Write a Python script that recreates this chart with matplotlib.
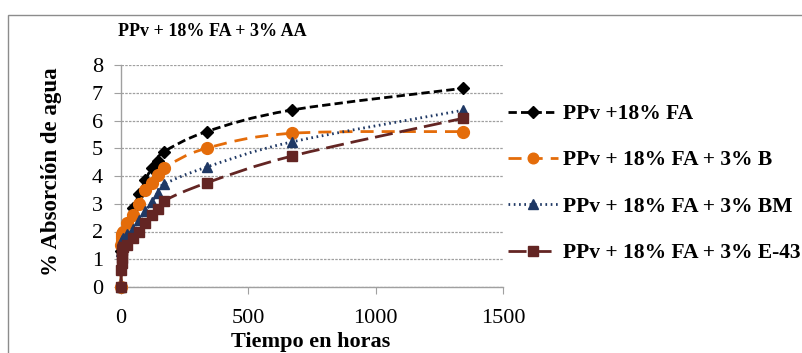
import matplotlib
matplotlib.use("Agg")
import matplotlib.pyplot as plt
from matplotlib.path import Path
from matplotlib.patches import PathPatch, Rectangle
from matplotlib.lines import Line2D
import numpy as np

plt.rcParams['font.family'] = ['Liberation Serif', 'DejaVu Serif']

title = "PPv + 18% FA + 3% AA"
xlabel = "Tiempo en horas"
ylabel = "% Absorción de agua"

hours = [0, 1, 2, 3, 4, 5, 6, 24, 48, 72, 96, 120, 144, 168, 336, 672, 1344]

labels = ["PPv +18% FA",
          "PPv + 18% FA + 3% B",
          "PPv + 18% FA + 3% BM",
          "PPv + 18% FA + 3% E-43"]

fa      = [0, 1.30, 1.50, 1.60, 1.70, 1.80, 1.90, 2.30, 2.85, 3.35, 3.85, 4.28, 4.55, 4.87, 5.60, 6.38, 7.16]
fa_b    = [0, 1.50, 1.65, 1.75, 1.85, 1.90, 2.00, 2.30, 2.60, 3.00, 3.50, 3.75, 4.05, 4.30, 5.00, 5.54, 5.60]
fa_bm   = [0, 1.30, 1.45, 1.55, 1.60, 1.70, 1.75, 1.90, 2.10, 2.40, 2.75, 3.05, 3.40, 3.70, 4.32, 5.23, 6.37]
fa_e43  = [0, 0.60, 0.85, 1.05, 1.20, 1.35, 1.45, 1.50, 1.75, 2.00, 2.30, 2.60, 2.80, 3.10, 3.75, 4.72, 6.08]

series = [fa, fa_b, fa_bm, fa_e43]
colors = ["#000000", "#E46C0A", "#1F3864", "#632523"]
markers = ["D", "o", "^", "s"]
msizes = [6.5, 8.5, 7.5, 7.5]
dashes = [(3, 1.5), (4.7, 2.9), (0.6, 1.3), (6.5, 2.5)]

W, H = 802, 353
fig = plt.figure(figsize=(W / 100, H / 100), dpi=100)

# outer chart frame
fig.patches.append(Rectangle((8 / W, -0.1), 1.2, (H - 15) / H + 0.1,
                             transform=fig.transFigure, fill=False,
                             edgecolor="#8c8c8c", linewidth=1.0))

ax = fig.add_axes([121 / W, (H - 287) / H, (503 - 121) / W, (287 - 65) / H])
ax.set_xlim(0, 1500)
ax.set_ylim(0, 8)
ax.set_xticks([0, 500, 1000, 1500])
ax.set_yticks(range(0, 9))
for s in ["top", "right"]:
    ax.spines[s].set_visible(False)
for s in ["left", "bottom"]:
    ax.spines[s].set_color("#a0a0a0")
    ax.spines[s].set_linewidth(1.0)
ax.tick_params(axis="both", direction="out", length=5, color="#a0a0a0",
               labelsize=16)
ax.tick_params(axis="x", pad=11)
ax.tick_params(axis="y", pad=8)
ax.grid(axis="y", color="#a0a0a0", linestyle=(0, (2, 1)), linewidth=0.9)
ax.set_axisbelow(True)


def smooth_path(xs, ys):
    pts = np.column_stack([xs, ys]).astype(float)
    n = len(pts)
    verts = [pts[0]]
    codes = [Path.MOVETO]
    for i in range(n - 1):
        p0 = pts[i - 1] if i > 0 else pts[i]
        p1 = pts[i]
        p2 = pts[i + 1]
        p3 = pts[i + 2] if i + 2 < n else pts[i + 1]
        c1 = p1 + (p2 - p0) / 6.0
        c2 = p2 - (p3 - p1) / 6.0
        verts += [c1, c2, p2]
        codes += [Path.CURVE4] * 3
    return Path(verts, codes)


handles = []
for k, (vals, col, mk, ms, ds) in enumerate(zip(series, colors, markers, msizes, dashes)):
    z = 3 + k
    patch = PathPatch(smooth_path(hours, vals), fill=False, edgecolor=col,
                      linewidth=2.0, zorder=z, clip_on=False)
    patch.set_linestyle((0, ds))
    ax.add_patch(patch)
    ax.plot(hours, vals, linestyle="none", marker=mk, markersize=ms,
            color=col, markeredgecolor=col, zorder=z, clip_on=False)
    handles.append(Line2D([], [], color=col, linewidth=2.0,
                          linestyle=(0, ds), marker=mk, markersize=ms * 0.9,
                          markeredgecolor=col))

fig.text(311 / W, 1 - 342 / H, xlabel, fontsize=16, fontweight="bold",
         ha="center", va="center")
fig.text(52 / W, 1 - 172 / H, ylabel, fontsize=16.5, fontweight="bold",
         ha="center", va="center", rotation=90)

fig.text(212 / W, 1 - 32 / H, title, fontsize=13, fontweight="bold",
         ha="center", va="center")

leg = fig.legend(handles, labels, loc="upper left",
                 bbox_to_anchor=(508 / W, 1 - 104 / H),
                 frameon=False,
                 prop={"weight": "bold", "size": 15.5},
                 handlelength=2.3, handletextpad=0.25, labelspacing=1.22,
                 borderaxespad=0, borderpad=0)

fig.savefig("out.png", dpi=100)
